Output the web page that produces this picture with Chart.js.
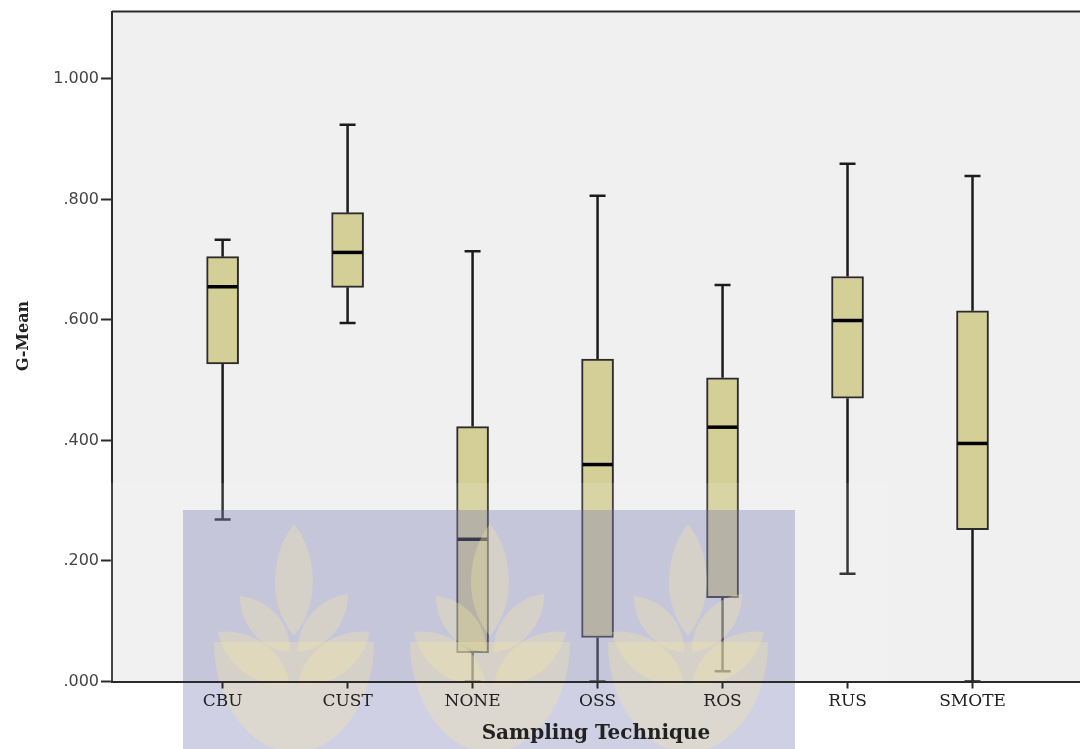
<!DOCTYPE html>
<html>
<head>
<meta charset="utf-8">
<title>G-Mean by Sampling Technique</title>
<script src="https://cdn.jsdelivr.net/npm/chart.js@4.4.1/dist/chart.umd.min.js"></script>
<style>
  html, body { margin: 0; padding: 0; background: #fff; overflow: hidden; }
  #wrap { width: 1080px; height: 749px; position: relative; }
</style>
</head>
<body>
<div id="wrap"><canvas id="gmean-chart"></canvas></div>
<script>
// Box plot values per sampling technique
const categories  = ['CBU', 'CUST', 'NONE', 'OSS', 'ROS', 'RUS', 'SMOTE'];
const whiskerLow  = [0.269, 0.595, 0.000, 0.000, 0.017, 0.179, 0.000];
const q1          = [0.527, 0.654, 0.048, 0.073, 0.139, 0.470, 0.252];
const medians     = [0.655, 0.712, 0.236, 0.360, 0.422, 0.599, 0.395];
const q3          = [0.705, 0.778, 0.423, 0.535, 0.504, 0.672, 0.615];
const whiskerHigh = [0.733, 0.924, 0.714, 0.806, 0.658, 0.859, 0.839];
const yTicks      = [0, 0.2, 0.4, 0.6, 0.8, 1.0];

const LINE = '#2b2b2b';
const BOX_FILL = '#d4cf97';

// light grey plot background + top frame line
const plotFrame = {
  id: 'plotFrame',
  beforeDraw(chart) {
    const { ctx, chartArea: a } = chart;
    ctx.save();
    ctx.fillStyle = '#f0f0f0';
    ctx.fillRect(a.left, a.top, a.right - a.left, a.bottom - a.top);
    ctx.strokeStyle = LINE;
    ctx.lineWidth = 2;
    ctx.beginPath();
    ctx.moveTo(a.left, a.top);
    ctx.lineTo(a.right, a.top);
    ctx.stroke();
    ctx.restore();
  },
  afterDraw(chart) {
    // y axis title, rotated
    const { ctx } = chart;
    ctx.save();
    ctx.translate(24, 336);
    ctx.rotate(-Math.PI / 2);
    ctx.font = 'bold 16px "DejaVu Serif"';
    ctx.fillStyle = '#222';
    ctx.textAlign = 'center';
    ctx.textBaseline = 'middle';
    ctx.fillText('G-Mean', 0, 0);
    ctx.restore();
  }
};

// pointed petal from a base point to a tip
function petal(ctx, bx, by, tx, ty, w) {
  const dx = tx - bx, dy = ty - by;
  const len = Math.hypot(dx, dy);
  const nx = -dy / len, ny = dx / len;
  ctx.moveTo(bx, by);
  ctx.bezierCurveTo(bx + dx * 0.3 + nx * w, by + dy * 0.3 + ny * w,
                    bx + dx * 0.75 + nx * w * 0.8, by + dy * 0.75 + ny * w * 0.8, tx, ty);
  ctx.bezierCurveTo(bx + dx * 0.75 - nx * w * 0.8, by + dy * 0.75 - ny * w * 0.8,
                    bx + dx * 0.3 - nx * w, by + dy * 0.3 - ny * w, bx, by);
}

function sprig(ctx, cx, tip) {
  ctx.beginPath();
  petal(ctx, cx, tip + 112, cx, tip, 28);
  petal(ctx, cx - 4, tip + 128, cx - 54, tip + 72, 22);
  petal(ctx, cx + 4, tip + 128, cx + 54, tip + 70, 22);
  petal(ctx, cx - 4, tip + 160, cx - 76, tip + 108, 26);
  petal(ctx, cx + 4, tip + 160, cx + 76, tip + 108, 26);
  ctx.fill();
  ctx.beginPath();
  ctx.ellipse(cx, tip + 118, 80, 110, 0, 0, Math.PI);
  ctx.fill();
}

// whiskers behind the boxes; medians and the stamp on top of them
const boxParts = {
  id: 'boxParts',
  beforeDatasetsDraw(chart) {
    const { ctx, scales: { x, y } } = chart;
    ctx.save();
    ctx.strokeStyle = '#1c1c1c';
    ctx.lineWidth = 2.5;
    categories.forEach((c, i) => {
      const px = x.getPixelForValue(i);
      const lo = y.getPixelForValue(whiskerLow[i]);
      const hi = y.getPixelForValue(whiskerHigh[i]);
      ctx.beginPath();
      ctx.moveTo(px, y.getPixelForValue(q1[i]));
      ctx.lineTo(px, lo);
      ctx.moveTo(px, y.getPixelForValue(q3[i]));
      ctx.lineTo(px, hi);
      ctx.moveTo(px - 8, lo); ctx.lineTo(px + 8, lo);
      ctx.moveTo(px - 8, hi); ctx.lineTo(px + 8, hi);
      ctx.stroke();
    });
    ctx.restore();
  },
  afterDatasetsDraw(chart) {
    const { ctx, scales: { x, y } } = chart;
    ctx.save();
    ctx.strokeStyle = '#000';
    ctx.lineWidth = 3.5;
    categories.forEach((c, i) => {
      const px = x.getPixelForValue(i);
      const py = y.getPixelForValue(medians[i]);
      ctx.beginPath();
      ctx.moveTo(px - 15, py);
      ctx.lineTo(px + 15, py);
      ctx.stroke();
    });

    // university stamp over the lower part of the figure
    ctx.fillStyle = 'rgba(255,255,255,0.12)';
    ctx.fillRect(110, 483, 777, 266);
    ctx.fillStyle = 'rgba(112,112,172,0.33)';
    ctx.fillRect(183, 510, 612, 239);
    ctx.beginPath();
    ctx.rect(183, 510, 612, 239);
    ctx.clip();
    ctx.fillStyle = 'rgba(244,232,165,0.33)';
    [294, 490, 688].forEach(cx => sprig(ctx, cx, 524));
    ctx.restore();
  }
};

new Chart(document.getElementById('gmean-chart'), {
  type: 'bar',
  data: {
    datasets: [{
      label: 'G-Mean',
      data: categories.map((c, i) => ({ x: i, y: [q1[i], q3[i]] })),
      backgroundColor: BOX_FILL,
      borderColor: LINE,
      borderWidth: 2,
      borderSkipped: false,
      barThickness: 32
    }]
  },
  options: {
    responsive: true,
    maintainAspectRatio: false,
    animation: false,
    layout: { padding: { top: 7, left: 0, right: 0, bottom: 0 } },
    plugins: {
      legend: { display: false },
      tooltip: { enabled: false }
    },
    scales: {
      x: {
        type: 'linear',
        offset: false,
        min: -0.885,
        max: 6.86,
        afterBuildTicks: s => { s.ticks = categories.map((c, i) => ({ value: i })); },
        afterFit: s => { s.height = 67.5; },
        // axis drawn above the stamp so labels stay dark
        border: { display: true, color: LINE, width: 2, z: 1 },
        grid: { z: 1, offset: false, drawOnChartArea: false, drawTicks: true, tickLength: 7, tickColor: LINE, tickWidth: 2 },
        ticks: {
          z: 1,
          padding: 3,
          color: '#222',
          font: { family: 'DejaVu Serif', size: 17 },
          callback: v => categories[v]
        },
        title: {
          display: true,
          text: 'Sampling Technique',
          color: '#222',
          font: { family: 'DejaVu Serif', size: 20, weight: 'bold' },
          padding: { top: 0, bottom: 3 }
        }
      },
      y: {
        min: 0,
        max: 1.1116,
        afterBuildTicks: s => { s.ticks = yTicks.map(v => ({ value: v })); },
        afterFit: s => { s.width = 112; },
        border: { display: true, color: LINE, width: 2 },
        grid: { drawOnChartArea: false, drawTicks: true, tickLength: 11, tickColor: LINE, tickWidth: 2 },
        ticks: {
          padding: 2,
          color: '#444',
          font: { family: 'DejaVu Sans', size: 16 },
          callback: v => v.toFixed(3).replace(/^0/, '')
        },
        title: { display: false }
      }
    }
  },
  plugins: [plotFrame, boxParts]
});
</script>
</body>
</html>
